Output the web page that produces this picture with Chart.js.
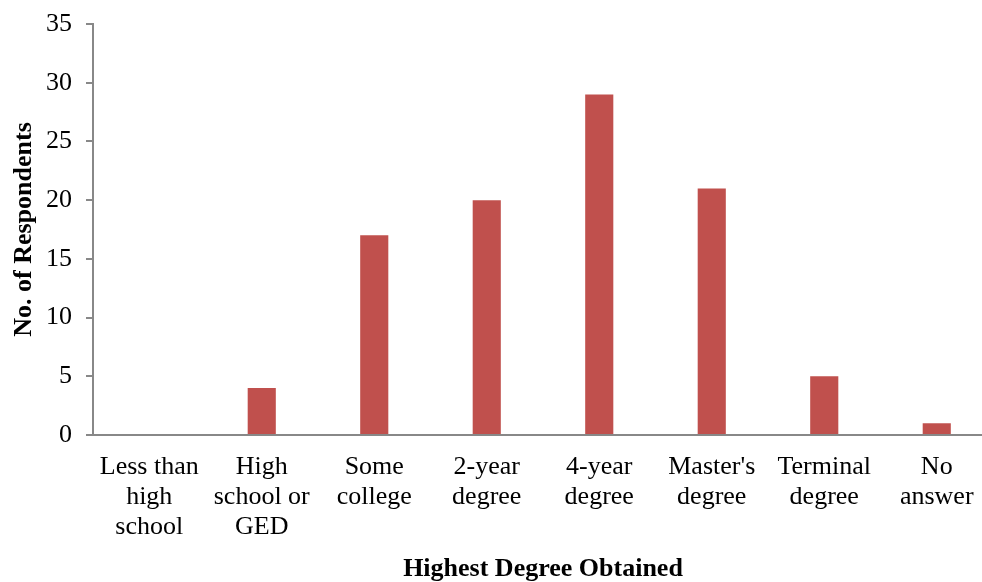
<!DOCTYPE html>
<html>
<head>
<meta charset="utf-8">
<script src="https://cdn.jsdelivr.net/npm/chart.js@4/dist/chart.umd.min.js"></script>
<style>
  html, body { margin: 0; padding: 0; background: #ffffff; overflow: hidden; }
  #wrap { position: absolute; left: 0; top: 0; width: 993px; height: 582px; }
</style>
</head>
<body>
<div id="wrap"><canvas id="chart"></canvas></div>
<script>
// Respondents by highest degree obtained
const categories = [
  ['Less than', 'high', 'school'],
  ['High', 'school or', 'GED'],
  ['Some', 'college'],
  ['2-year', 'degree'],
  ['4-year', 'degree'],
  ["Master's", 'degree'],
  ['Terminal', 'degree'],
  ['No', 'answer']
];
const respondents = [0, 4, 17, 20, 29, 21, 5, 1];
const yTicks = [0, 5, 10, 15, 20, 25, 30, 35];

const axisGrey = '#888888';
const serif = '"Liberation Serif", "Times New Roman", serif';

new Chart(document.getElementById('chart'), {
  type: 'bar',
  data: {
    labels: categories,
    datasets: [{
      data: respondents,
      backgroundColor: '#C0504D',
      borderWidth: 0,
      barPercentage: 0.25,
      categoryPercentage: 1.0
    }]
  },
  options: {
    responsive: true,
    maintainAspectRatio: false,
    animation: false,
    layout: { padding: { top: 24, right: 0, bottom: 0, left: 0 } },
    plugins: { legend: { display: false }, tooltip: { enabled: false } },
    scales: {
      x: {
        grid: { display: false, drawTicks: false },
        border: { display: true, color: axisGrey, width: 2 },
        ticks: {
          color: '#000000',
          font: { family: serif, size: 26, lineHeight: 1.15 },
          padding: 17,
          maxRotation: 0,
          autoSkip: false
        },
        title: {
          display: true,
          text: 'Highest Degree Obtained',
          color: '#000000',
          font: { family: serif, size: 26, weight: 'bold' },
          padding: { top: 0, bottom: -3 }
        },
        afterFit: (scale) => {
          scale.height = 147;
          scale.paddingLeft = 0;
          scale.paddingRight = 0;
        }
      },
      y: {
        min: 0,
        max: 35,
        afterBuildTicks: (scale) => { scale.ticks = yTicks.map(v => ({ value: v })); },
        grid: { drawOnChartArea: false, drawTicks: true, tickLength: 7, color: axisGrey, lineWidth: 2 },
        border: { display: true, color: axisGrey, width: 2 },
        ticks: {
          color: '#000000',
          font: { family: serif, size: 26 },
          padding: 14
        },
        title: {
          display: true,
          text: 'No. of Respondents',
          color: '#000000',
          font: { family: serif, size: 26, weight: 'bold' },
          padding: { top: 9, bottom: 0 }
        },
        afterFit: (scale) => {
          scale.width = 93;
          scale.paddingTop = 0;
          scale.paddingBottom = 0;
        }
      }
    }
  }
});
</script>
</body>
</html>
